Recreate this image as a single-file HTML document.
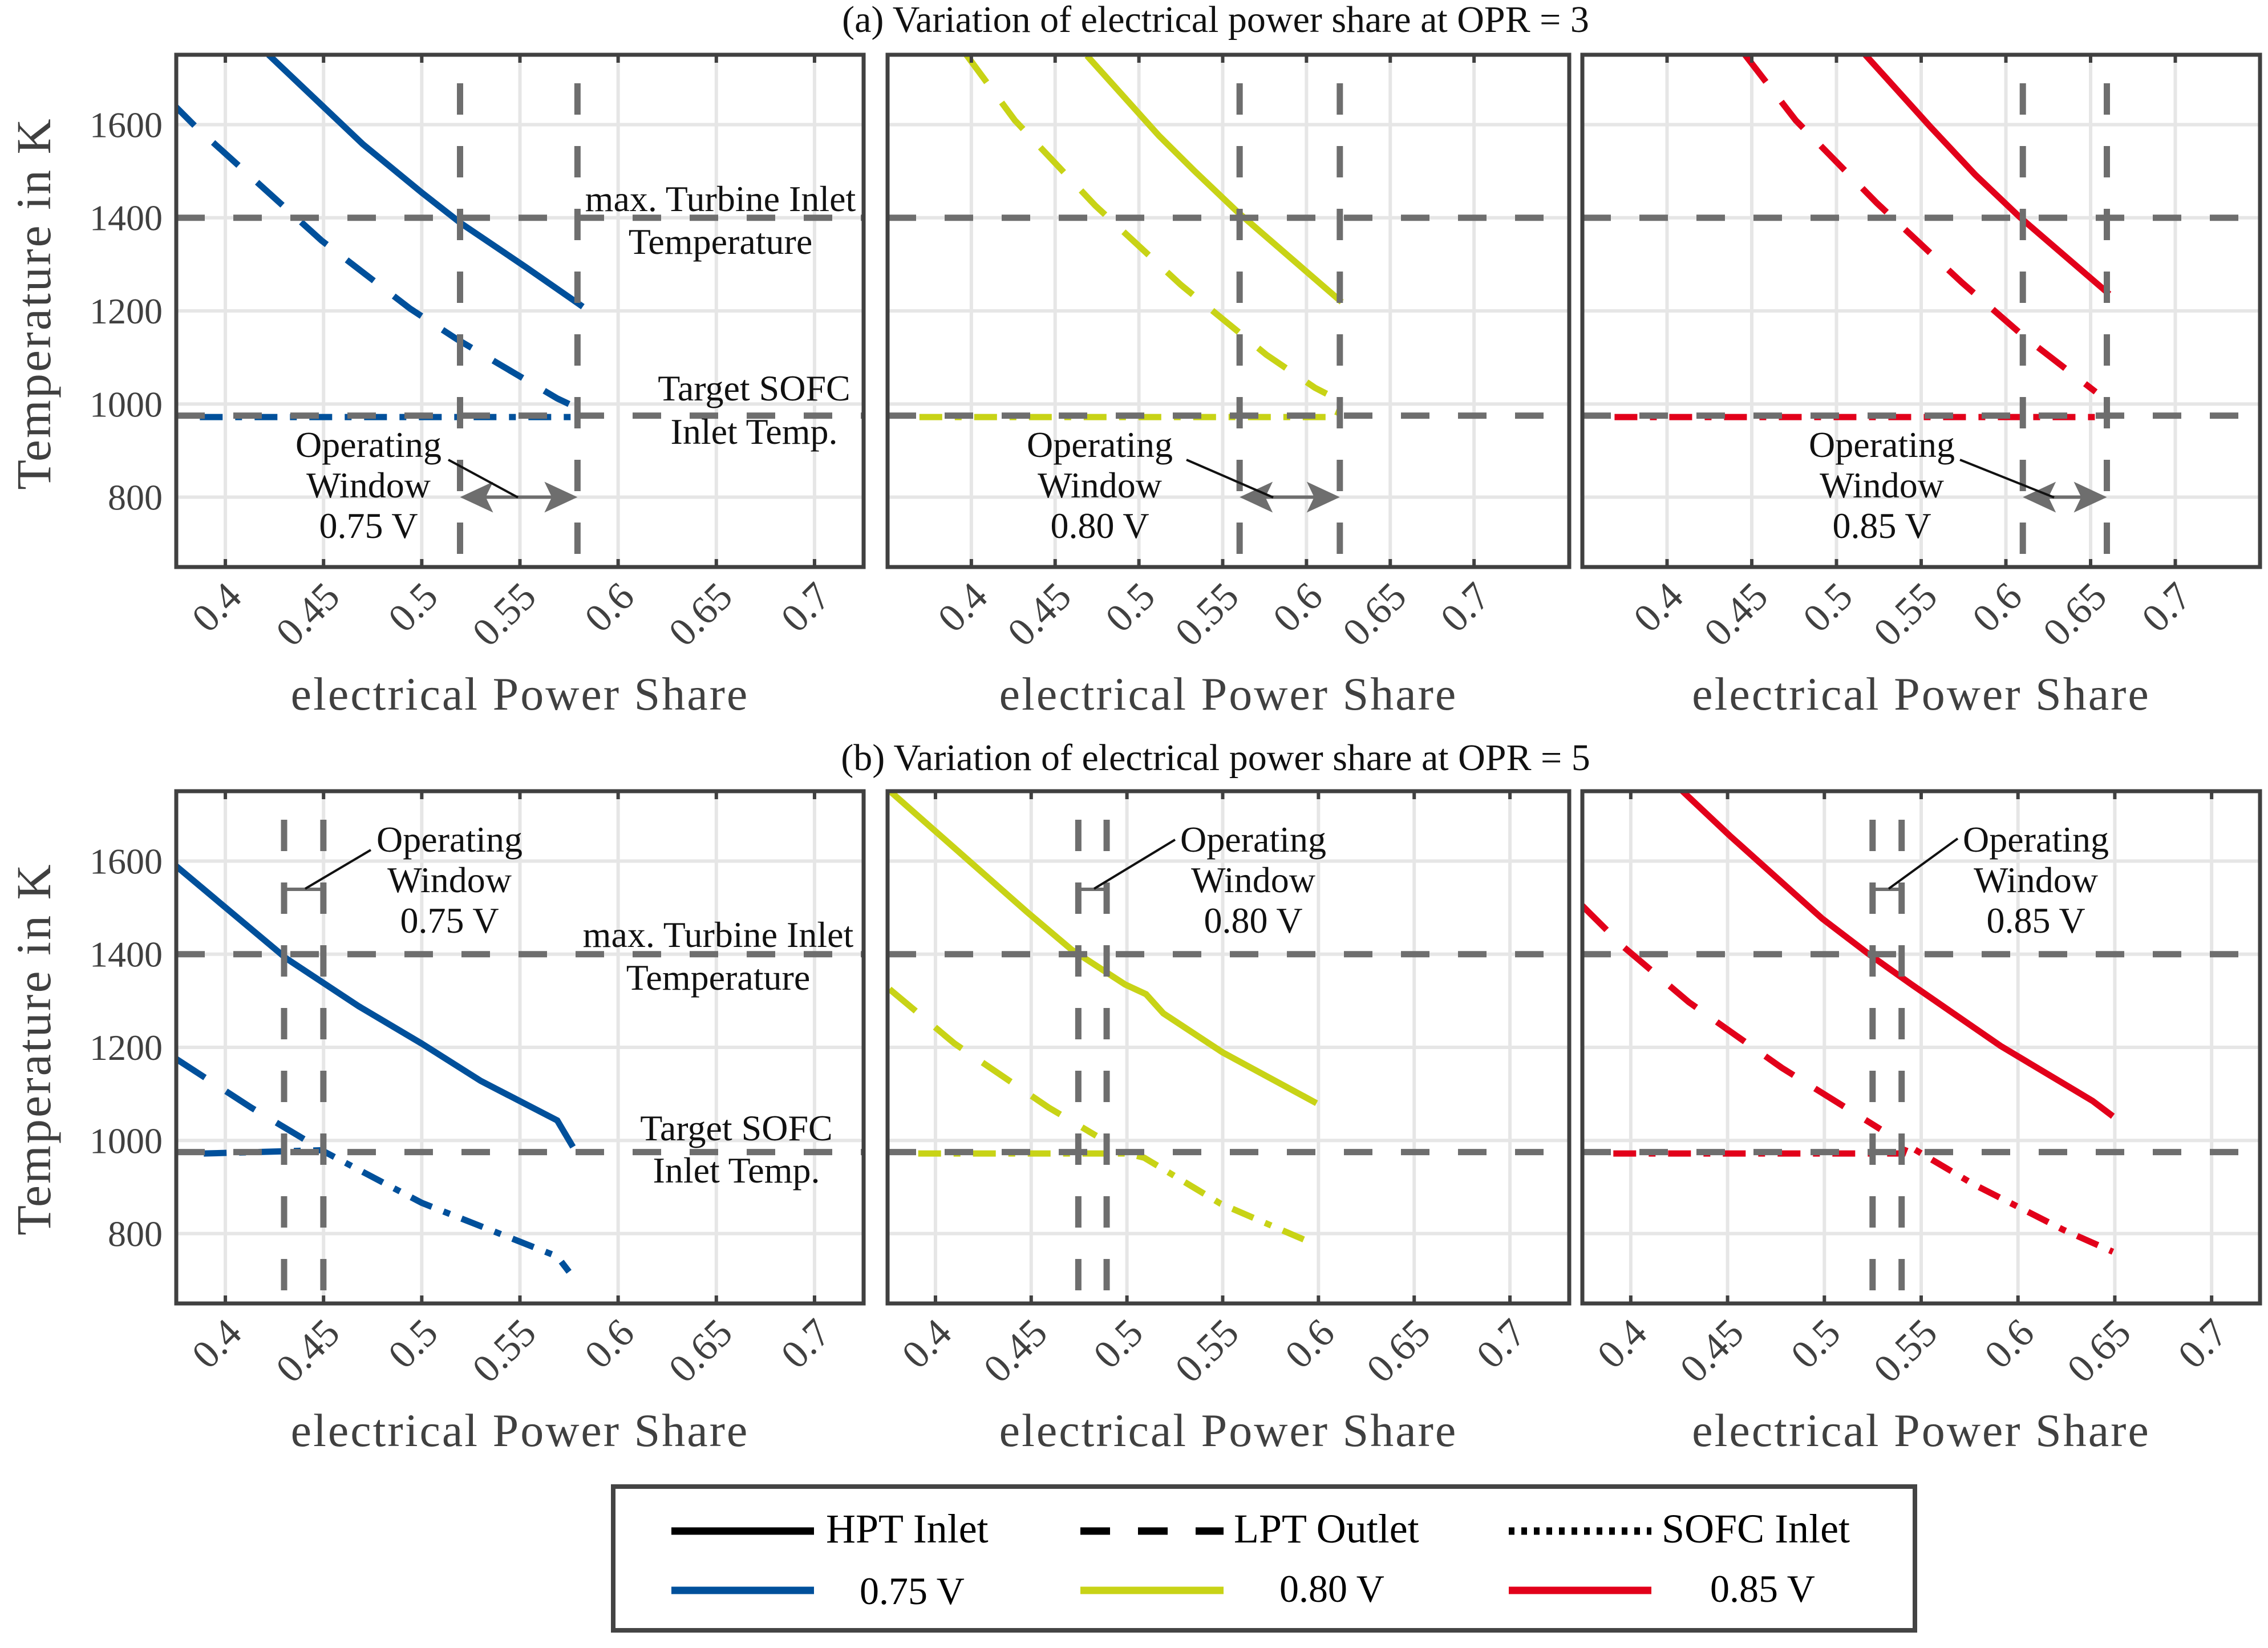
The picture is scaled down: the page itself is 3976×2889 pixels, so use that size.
<!DOCTYPE html>
<html><head><meta charset="utf-8"><style>
html,body{margin:0;padding:0;background:#fff;}
svg{display:block;}
text{font-family:"Liberation Serif","DejaVu Serif",serif;}
</style></head><body>
<svg id="fig" width="3976" height="2889" viewBox="0 0 3976 2889" xmlns="http://www.w3.org/2000/svg">
<rect x="0" y="0" width="3976" height="2889" fill="#fff"/>
<text x="2131" y="56" font-size="66" text-anchor="middle" fill="#111">(a) Variation of electrical power share at OPR = 3</text>
<text x="2131" y="1350" font-size="66" text-anchor="middle" fill="#111">(b) Variation of electrical power share at OPR = 5</text>
<g id="panels"></g>
<g>
<rect x="1075" y="2606" width="2282" height="252" fill="#fff" stroke="#444" stroke-width="8"/>
<line x1="1177" y1="2684" x2="1427" y2="2684" stroke="#000" stroke-width="13"/>
<text x="1448" y="2704" font-size="72">HPT Inlet</text>
<line x1="1894" y1="2684" x2="2145" y2="2684" stroke="#000" stroke-width="13" stroke-dasharray="52,49"/>
<text x="2163" y="2704" font-size="72">LPT Outlet</text>
<line x1="2645" y1="2684" x2="2895" y2="2684" stroke="#000" stroke-width="13" stroke-dasharray="10,12"/>
<text x="2913" y="2704" font-size="72">SOFC Inlet</text>
<line x1="1177" y1="2788" x2="1427" y2="2788" stroke="#00509b" stroke-width="13"/>
<text x="1507" y="2812" font-size="68">0.75 V</text>
<line x1="1894" y1="2788" x2="2145" y2="2788" stroke="#c8d316" stroke-width="13"/>
<text x="2243" y="2808" font-size="68">0.80 V</text>
<line x1="2645" y1="2788" x2="2895" y2="2788" stroke="#e2001a" stroke-width="13"/>
<text x="2998" y="2808" font-size="68">0.85 V</text>
</g>
</svg>
<script>
// ---- shared axis data ----
const yTicks = [800, 1000, 1200, 1400, 1600];
const xTicks = [0.4, 0.45, 0.5, 0.55, 0.6, 0.65, 0.7];
const xTickLabels = ["0.4", "0.45", "0.5", "0.55", "0.6", "0.65", "0.7"];
const maxTIT = [1400];
const targetSOFC = [975];
const arrowTemp = [800];

// ---- OPR 3 ----
const a1HptX = [0.422, 0.449, 0.47, 0.5, 0.52, 0.553, 0.582];
const a1HptY = [1750, 1642, 1558, 1454, 1388, 1294, 1209];
const a1LptX = [0.372, 0.385, 0.449, 0.494, 0.518, 0.569, 0.575];
const a1LptY = [1650, 1595, 1351, 1205, 1139, 1012, 1000];
const a1SofcX = [0.387, 0.578];
const a1SofcY = [972, 972];
const a1Window = [0.5195, 0.5793];

const a2HptX = [0.469, 0.512, 0.533, 0.559, 0.621];
const a2HptY = [1748, 1576, 1501, 1412, 1219];
const a2LptX = [0.397, 0.426, 0.474, 0.525, 0.576, 0.605, 0.612];
const a2LptY = [1750, 1609, 1426, 1256, 1106, 1035, 1022];
const a2SofcX = [0.369, 0.618, 0.621];
const a2SofcY = [972, 972, 998];
const a2Window = [0.5601, 0.6199];

const a3HptX = [0.517, 0.5555, 0.582, 0.608, 0.661];
const a3HptY = [1750, 1595, 1492, 1402, 1236];
const a3LptX = [0.446, 0.476, 0.524, 0.574, 0.611, 0.653];
const a3LptY = [1750, 1609, 1431, 1261, 1144, 1026];
const a3SofcX = [0.369, 0.653];
const a3SofcY = [972, 972];
const a3Window = [0.61, 0.6596];

// ---- OPR 5 ----
const b1HptX = [0.375, 0.399, 0.431, 0.468, 0.5, 0.53, 0.569, 0.577];
const b1HptY = [1589, 1504, 1391, 1288, 1208, 1128, 1043, 986];
const b1LptX = [0.375, 0.413, 0.44];
const b1LptY = [1175, 1071, 1003];
const b1SofcX = [0.389, 0.449, 0.5, 0.569, 0.575];
const b1SofcY = [972, 979, 866, 751, 718];
const b1Window = [0.4299, 0.4499];

const b2HptX = [0.376, 0.4, 0.448, 0.471, 0.499, 0.51, 0.519, 0.55, 0.599];
const b2HptY = [1751, 1664, 1490, 1410, 1335, 1314, 1273, 1189, 1080];
const b2LptX = [0.376, 0.41, 0.459, 0.484];
const b2LptY = [1325, 1208, 1071, 1010];
const b2SofcX = [0.391, 0.5, 0.509, 0.549, 0.597];
const b2SofcY = [972, 972, 963, 864, 779];
const b2Window = [0.4746, 0.4894];

const b3HptX = [0.4265, 0.451, 0.499, 0.523, 0.545, 0.591, 0.6385, 0.649];
const b3HptY = [1751, 1655, 1476, 1400, 1335, 1203, 1085, 1052];
const b3LptX = [0.375, 0.3965, 0.43, 0.478, 0.529];
const b3LptY = [1504, 1415, 1297, 1156, 1024];
const b3SofcX = [0.391, 0.5406, 0.5424, 0.577, 0.6235, 0.649];
const b3SofcY = [972, 972, 991, 906, 808, 761];
const b3Window = [0.5249, 0.5399];

const NS = 'http://www.w3.org/2000/svg';
const root = document.getElementById('panels');
function el(tag, parent) { const e = document.createElementNS(NS, tag); parent.appendChild(e); return e; }
function set(e, k, v) { e.setAttribute(k, v); }

const panels = [
  {id:'a1', L:309, R:1514, BR:1514, T:96, B:994, xmin:0.375, xmax:0.725, c:'#00509b', hx:a1HptX, hy:a1HptY, lx:a1LptX, ly:a1LptY, sx:a1SofcX, sy:a1SofcY, w:a1Window, top:true, yl:true, side:true, op:646, volt:'0.75 V', line:[786,806,908,872]},
  {id:'a2', L:1556, R:2731, BR:2751, T:96, B:994, xmin:0.35, xmax:0.75, c:'#c8d316', hx:a2HptX, hy:a2HptY, lx:a2LptX, ly:a2LptY, sx:a2SofcX, sy:a2SofcY, w:a2Window, top:true, yl:false, side:false, op:1928, volt:'0.80 V', line:[2080,806,2232,872]},
  {id:'a3', L:2774, R:3962, BR:3962, T:96, B:994, xmin:0.35, xmax:0.75, c:'#e2001a', hx:a3HptX, hy:a3HptY, lx:a3LptX, ly:a3LptY, sx:a3SofcX, sy:a3SofcY, w:a3Window, top:true, yl:false, side:false, op:3299, volt:'0.85 V', line:[3436,806,3601,872]},
  {id:'b1', L:309, R:1514, BR:1514, T:1387, B:2285, xmin:0.375, xmax:0.725, c:'#00509b', hx:b1HptX, hy:b1HptY, lx:b1LptX, ly:b1LptY, sx:b1SofcX, sy:b1SofcY, w:b1Window, top:false, yl:true, side:true, op:788, volt:'0.75 V', line:[535,1558,650,1490]},
  {id:'b2', L:1556, R:2731, BR:2751, T:1387, B:2285, xmin:0.375, xmax:0.725, c:'#c8d316', hx:b2HptX, hy:b2HptY, lx:b2LptX, ly:b2LptY, sx:b2SofcX, sy:b2SofcY, w:b2Window, top:false, yl:false, side:false, op:2197, volt:'0.80 V', line:[1918,1558,2060,1472]},
  {id:'b3', L:2774, R:3962, BR:3962, T:1387, B:2285, xmin:0.375, xmax:0.725, c:'#e2001a', hx:b3HptX, hy:b3HptY, lx:b3LptX, ly:b3LptY, sx:b3SofcX, sy:b3SofcY, w:b3Window, top:false, yl:false, side:false, op:3569, volt:'0.85 V', line:[3311,1558,3432,1470]}
];
const YMIN = 650, YMAX = 1750;

panels.forEach(function(p) {
  const sx = v => p.L + (v - p.xmin) / (p.xmax - p.xmin) * (p.R - p.L);
  const sy = v => p.B - (v - YMIN) / (YMAX - YMIN) * (p.B - p.T);
  const g = el('g', root);
  
  
  const defs = el('defs', g);
  const cp = el('clipPath', defs); set(cp, 'id', 'clip-' + p.id);
  const cr = el('rect', cp); set(cr, 'x', p.L); set(cr, 'y', p.T); set(cr, 'width', p.BR - p.L); set(cr, 'height', p.B - p.T);
  xTicks.forEach(function(t) {
    const ln = el('line', g);
    
    
    set(ln, 'x1', sx(t)); set(ln, 'x2', sx(t)); set(ln, 'y1', p.T); set(ln, 'y2', p.B);
    set(ln, 'stroke', '#e6e6e6'); set(ln, 'stroke-width', 6);
  });
  yTicks.forEach(function(t) {
    const ln = el('line', g);
    
    
    set(ln, 'x1', p.L); set(ln, 'x2', p.BR); set(ln, 'y1', sy(t)); set(ln, 'y2', sy(t));
    set(ln, 'stroke', '#e6e6e6'); set(ln, 'stroke-width', 6);
  });
  const cg = el('g', g); set(cg, 'clip-path', 'url(#clip-' + p.id + ')');
  function series(xs, ys, dash, name) {
    const pl = el('polyline', cg);
    
    
    set(pl, 'points', xs.map((x, i) => sx(x) + ',' + sy(ys[i])).join(' '));
    set(pl, 'fill', 'none'); set(pl, 'stroke', p.c); set(pl, 'stroke-width', 11);
    if (dash) set(pl, 'stroke-dasharray', dash);
  }
  series(p.sx, p.sy, '40,22,12,22', 'sofc-inlet-line');
  series(p.lx, p.ly, '60,44', 'lpt-outlet-line');
  series(p.hx, p.hy, null, 'hpt-inlet-line');
  const r1 = el('line', cg);
  
  
  set(r1, 'x1', p.L); set(r1, 'x2', p.BR); set(r1, 'y1', sy(maxTIT[0])); set(r1, 'y2', sy(maxTIT[0]));
  set(r1, 'stroke', '#6e6e6e'); set(r1, 'stroke-width', 11); set(r1, 'stroke-dasharray', '50,50');
  const r2 = el('line', cg);
  
  
  set(r2, 'x1', p.L); set(r2, 'x2', p.BR); set(r2, 'y1', sy(targetSOFC[0])); set(r2, 'y2', sy(targetSOFC[0]));
  set(r2, 'stroke', '#6e6e6e'); set(r2, 'stroke-width', 11); set(r2, 'stroke-dasharray', '50,50');
  p.w.forEach(function(wv) {
    const v = el('line', cg);
    
    
    set(v, 'x1', sx(wv)); set(v, 'x2', sx(wv)); set(v, 'y1', p.T + 50); set(v, 'y2', p.B);
    set(v, 'stroke', '#6e6e6e'); set(v, 'stroke-width', 11); set(v, 'stroke-dasharray', '55,55');
  });
  const wa = sx(p.w[0]), wb = sx(p.w[1]);
  if (p.top) {
    const ay = sy(arrowTemp[0]);
    const al = el('line', g);
    
    
    set(al, 'x1', wa + 40); set(al, 'x2', wb - 40); set(al, 'y1', ay); set(al, 'y2', ay);
    set(al, 'stroke', '#6e6e6e'); set(al, 'stroke-width', 6);
    const h1 = el('polygon', g);
    
    
    set(h1, 'points', wa + ',' + ay + ' ' + (wa + 58) + ',' + (ay - 27) + ' ' + (wa + 45) + ',' + ay + ' ' + (wa + 58) + ',' + (ay + 27));
    set(h1, 'fill', '#6e6e6e');
    const h2 = el('polygon', g);
    
    
    set(h2, 'points', wb + ',' + ay + ' ' + (wb - 58) + ',' + (ay - 27) + ' ' + (wb - 45) + ',' + ay + ' ' + (wb - 58) + ',' + (ay + 27));
    set(h2, 'fill', '#6e6e6e');
  } else {
    const my = p.T + 172;
    const bar = el('line', g);
    
    
    set(bar, 'x1', wa); set(bar, 'x2', wb); set(bar, 'y1', my); set(bar, 'y2', my);
    set(bar, 'stroke', '#6e6e6e'); set(bar, 'stroke-width', 6);
  }
  const pt = el('line', g);
  
  
  set(pt, 'x1', p.line[0]); set(pt, 'y1', p.line[1]); set(pt, 'x2', p.line[2]); set(pt, 'y2', p.line[3]);
  set(pt, 'stroke', '#111'); set(pt, 'stroke-width', 4);
  const bx = el('rect', g);
  
  
  set(bx, 'x', p.L); set(bx, 'y', p.T); set(bx, 'width', p.BR - p.L); set(bx, 'height', p.B - p.T);
  set(bx, 'fill', 'none'); set(bx, 'stroke', '#404040'); set(bx, 'stroke-width', 7);
  xTicks.forEach(function(t) {
    [[p.T, p.T + 14], [p.B - 14, p.B]].forEach(function(yy) {
      const tk = el('line', g);
      
      
      set(tk, 'x1', sx(t)); set(tk, 'x2', sx(t)); set(tk, 'y1', yy[0]); set(tk, 'y2', yy[1]);
      set(tk, 'stroke', '#404040'); set(tk, 'stroke-width', 6);
    });
  });
  xTicks.forEach(function(t, i) {
    const tx = el('text', g);
    
    
    const ax = sx(t) + 32, ay = p.B + 56;
    set(tx, 'x', ax); set(tx, 'y', ay); set(tx, 'text-anchor', 'end'); set(tx, 'font-size', 70);
    set(tx, 'fill', '#404040'); set(tx, 'transform', 'rotate(-45 ' + ax + ' ' + ay + ')');
    tx.textContent = xTickLabels[i];
  });
  const xl = el('text', g);
  
  
  set(xl, 'x', (p.L + p.BR) / 2); set(xl, 'y', p.B + 250); set(xl, 'text-anchor', 'middle');
  set(xl, 'font-size', 82); set(xl, 'fill', '#404040'); set(xl, 'letter-spacing', 3);
  xl.textContent = 'electrical Power Share';
  if (p.yl) {
    yTicks.forEach(function(t) {
      const ty = el('text', g);
      
      
      set(ty, 'x', p.L - 24); set(ty, 'y', sy(t) + 22); set(ty, 'text-anchor', 'end');
      set(ty, 'font-size', 64); set(ty, 'fill', '#404040');
      ty.textContent = String(t);
    });
    const yt = el('text', g);
    
    
    const cx = 88, cy = p.top ? 532 : 1839;
    set(yt, 'x', cx); set(yt, 'y', cy); set(yt, 'text-anchor', 'middle'); set(yt, 'font-size', 86);
    set(yt, 'fill', '#404040'); set(yt, 'letter-spacing', 3); set(yt, 'transform', 'rotate(-90 ' + cx + ' ' + cy + ')');
    yt.textContent = 'Temperature in K';
  }
  function label(txt, x, y, name) {
    const t = el('text', g);
    
    
    set(t, 'x', x); set(t, 'y', y); set(t, 'text-anchor', 'middle'); set(t, 'font-size', 64); set(t, 'fill', '#111');
    t.textContent = txt;
  }
  const ob = p.top ? 801 : 1493;
  label('Operating', p.op, ob, 'operating-window-label');
  label('Window', p.op, ob + 71, 'operating-window-label');
  label(p.volt, p.op, ob + 142, 'operating-window-voltage');
  if (p.side) {
    if (p.top) {
      label('max. Turbine Inlet', 1263, 370, 'max-turbine-inlet-label');
      label('Temperature', 1263, 445, 'max-turbine-inlet-label');
      label('Target SOFC', 1322, 702, 'target-sofc-label');
      label('Inlet Temp.', 1322, 778, 'target-sofc-label');
    } else {
      label('max. Turbine Inlet', 1259, 1660, 'max-turbine-inlet-label');
      label('Temperature', 1259, 1735, 'max-turbine-inlet-label');
      label('Target SOFC', 1291, 1999, 'target-sofc-label');
      label('Inlet Temp.', 1291, 2073, 'target-sofc-label');
    }
  }
});
</script>
</body></html>
